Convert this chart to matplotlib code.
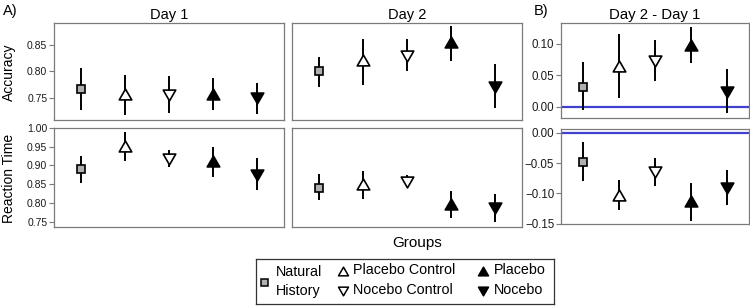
"""
Accuracy / reaction time by group, day 1, day 2 and the day 2 - day 1 difference
"""

import matplotlib
matplotlib.use("Agg")
import matplotlib.pyplot as plt
from matplotlib.path import Path

plt.rcParams['font.family'] = ['Liberation Sans', 'DejaVu Sans']

# groups and styles (marker, face colour)
groups = ['Natural History', 'Placebo Control', 'Nocebo Control', 'Placebo', 'Nocebo']
legend_labels = ['Natural\nHistory', 'Placebo Control', 'Nocebo Control', 'Placebo', 'Nocebo']

# estimates and interval bounds
acc_day1 = [0.767, 0.757, 0.755, 0.757, 0.749]
acc_day1_lo = [0.727, 0.717, 0.722, 0.727, 0.720]
acc_day1_hi = [0.807, 0.794, 0.792, 0.787, 0.778]

acc_day2 = [0.800, 0.821, 0.829, 0.856, 0.771]
acc_day2_lo = [0.770, 0.775, 0.800, 0.820, 0.730]
acc_day2_hi = [0.828, 0.862, 0.862, 0.887, 0.815]

rt_day1 = [0.890, 0.951, 0.917, 0.913, 0.875]
rt_day1_lo = [0.854, 0.913, 0.897, 0.870, 0.834]
rt_day1_hi = [0.926, 0.988, 0.942, 0.949, 0.919]

rt_day2 = [0.841, 0.850, 0.857, 0.798, 0.785]
rt_day2_lo = [0.807, 0.810, 0.848, 0.760, 0.749]
rt_day2_hi = [0.876, 0.886, 0.874, 0.832, 0.825]

acc_diff = [0.032, 0.065, 0.073, 0.098, 0.024]
acc_diff_lo = [-0.006, 0.013, 0.041, 0.069, -0.010]
acc_diff_hi = [0.071, 0.115, 0.106, 0.127, 0.060]

rt_diff = [-0.0475, -0.102, -0.065, -0.112, -0.091]
rt_diff_lo = [-0.0795, -0.128, -0.087, -0.145, -0.119]
rt_diff_hi = [-0.0156, -0.078, -0.041, -0.083, -0.061]

# equilateral triangles, closed paths
TRI_UP = Path([(-0.5, -0.433), (0.5, -0.433), (0.0, 0.433), (-0.5, -0.433)], closed=True)
TRI_DOWN = Path([(-0.5, 0.433), (0.5, 0.433), (0.0, -0.433), (-0.5, 0.433)], closed=True)
STYLES = [
    dict(marker='s', markersize=5.6, markerfacecolor='#b0b0b0'),
    dict(marker=TRI_UP, markersize=9, markerfacecolor='white'),
    dict(marker=TRI_DOWN, markersize=9, markerfacecolor='white'),
    dict(marker=TRI_UP, markersize=9, markerfacecolor='black'),
    dict(marker=TRI_DOWN, markersize=9, markerfacecolor='black'),
]
FRAME = '#7a7a7a'
BLUE = '#4040d0'

W, H = 750, 307
fig = plt.figure(figsize=(7.5, 3.07), dpi=100)


def px_axes(x0, y0, x1, y1):
    return fig.add_axes([x0 / W, 1 - y1 / H, (x1 - x0) / W, (y1 - y0) / H])


def draw_panel(ax, est, lo, hi, ylim, yticks=None, zero=False, tick_size=7.5):
    xs = range(1, len(groups) + 1)
    if zero:
        ax.axhline(0, color=BLUE, linewidth=1.6, zorder=1)
    for x, m, l, h, st in zip(xs, est, lo, hi, STYLES):
        ax.plot([x, x], [l, h], color='black', linewidth=1.4, solid_capstyle='butt', zorder=2)
        ax.plot([x], [m], linestyle='none', markeredgecolor='black',
                markeredgewidth=1.2, zorder=3, **st)
    ax.set_xlim(0.4, 5.6)
    ax.set_ylim(*ylim)
    ax.set_xticks([])
    if yticks is None:
        ax.set_yticks([])
    else:
        ax.set_yticks(yticks)
        ax.set_yticklabels([f'{t:.2f}'.replace('-', '\u2212') for t in yticks])
    ax.tick_params(axis='y', length=3.3, width=0.8, color=FRAME, labelsize=tick_size,
                   labelcolor='#1a1a1a', pad=1.5)
    for s in ax.spines.values():
        s.set_color(FRAME)
        s.set_linewidth(0.9)


ax1 = px_axes(54, 23, 284, 120)
draw_panel(ax1, acc_day1, acc_day1_lo, acc_day1_hi, (0.708, 0.892), [0.75, 0.80, 0.85])
ax2 = px_axes(292, 23, 522, 120)
draw_panel(ax2, acc_day2, acc_day2_lo, acc_day2_hi, (0.708, 0.892))
ax3 = px_axes(54, 128, 284, 227)
draw_panel(ax3, rt_day1, rt_day1_lo, rt_day1_hi, (0.7355, 1.0),
           [0.75, 0.80, 0.85, 0.90, 0.95, 1.00])
ax4 = px_axes(292, 128, 522, 227)
draw_panel(ax4, rt_day2, rt_day2_lo, rt_day2_hi, (0.7355, 1.0))
ax5 = px_axes(561, 23, 749, 118)
draw_panel(ax5, acc_diff, acc_diff_lo, acc_diff_hi, (-0.018, 0.133),
           [0.00, 0.05, 0.10], zero=True, tick_size=8.3)
ax6 = px_axes(561, 129, 749, 224)
draw_panel(ax6, rt_diff, rt_diff_lo, rt_diff_hi, (-0.1505, 0.0066),
           [-0.15, -0.10, -0.05, 0.00], zero=True, tick_size=8.3)

# titles and labels
ax1.set_title('Day 1', fontsize=10.5, pad=3)
ax2.set_title('Day 2', fontsize=10.5, pad=3)
ax5.set_title('Day 2 - Day 1', fontsize=10.8, pad=3)
fig.text(3 / W, 1 - 11 / H, 'A)', fontsize=10.5, va='center', ha='left')
fig.text(534 / W, 1 - 11 / H, 'B)', fontsize=10.5, va='center', ha='left')
fig.text(9 / W, 1 - 72 / H, 'Accuracy', fontsize=10, rotation=90, va='center', ha='center')
fig.text(9 / W, 1 - 178 / H, 'Reaction Time', fontsize=10, rotation=90, va='center', ha='center')
fig.text(417 / W, 1 - 243 / H, 'Groups', fontsize=11, va='center', ha='center')

# legend box drawn by hand (the first key spans two rows)
lg = px_axes(256, 259, 554, 304)
lg.set_xlim(256, 554)
lg.set_ylim(304, 259)
lg.set_xticks([])
lg.set_yticks([])
for s in lg.spines.values():
    s.set_color('#333333')
    s.set_linewidth(0.9)
key_pos = [(263.5, 281.5), (343.5, 270.5), (343.5, 290.5), (483.5, 270.5), (483.5, 290.5)]
for (kx, ky), st, lab in zip(key_pos, STYLES, legend_labels):
    kst = dict(st)
    is_square = kst['marker'] == 's'
    kst['markersize'] = st['markersize'] * (0.9 if is_square else 0.8)
    lg.plot([kx], [ky], linestyle='none', markeredgecolor='black', markeredgewidth=1.1, **kst)
    lg.text(kx + (12.5 if is_square else 10), ky, lab, fontsize=10.3, va='center', ha='left',
            linespacing=1.5)

fig.savefig('out.png', dpi=100)
